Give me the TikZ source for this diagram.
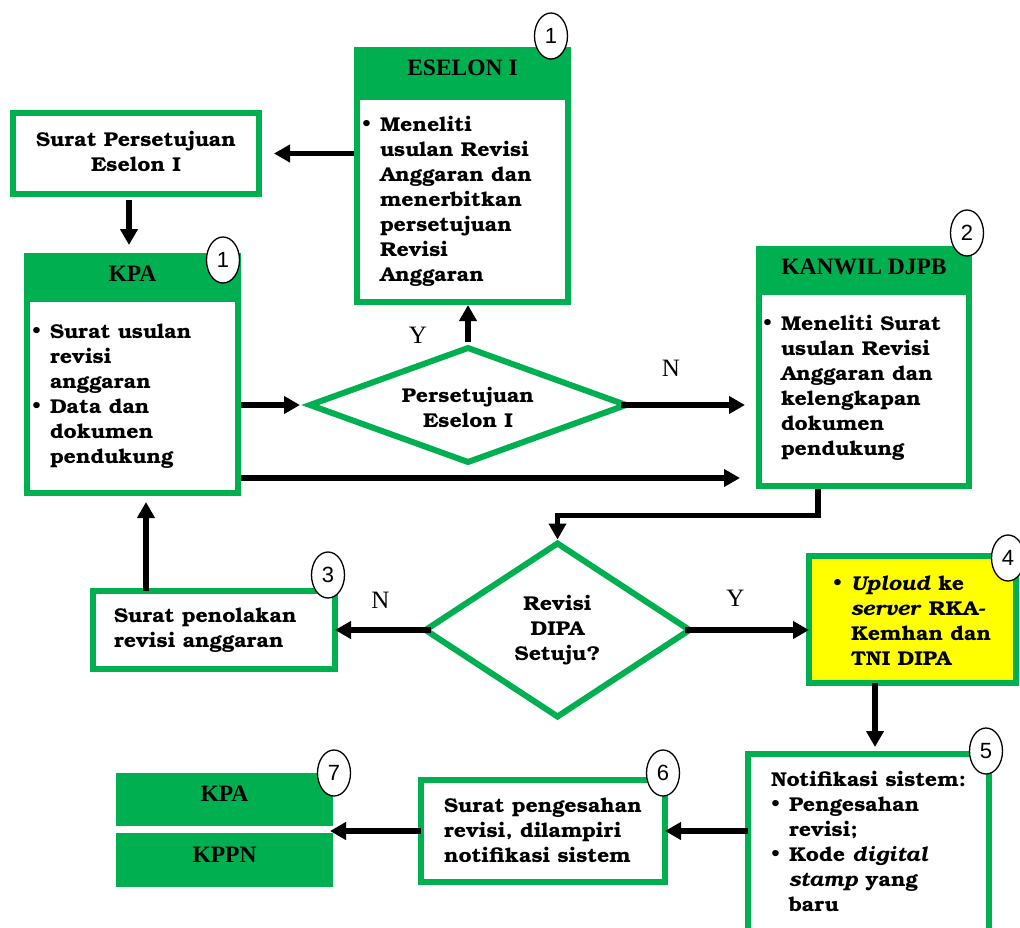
\documentclass[tikz,border=0pt]{standalone}
\usepackage{fontspec}
\setmainfont{TeX Gyre Bonum}[FakeStretch=1.07]
\newfontfamily\hdrfont{Liberation Serif}
\newfontfamily\numfont{Liberation Sans}
\usetikzlibrary{arrows.meta,shapes.geometric,calc}
\definecolor{grn}{HTML}{00B050}
\definecolor{ylw}{HTML}{FFFF00}
\newcommand\mybul{\makebox[18pt][l]{\raisebox{0.5pt}{\fontsize{18}{18}\selectfont\textbullet}}}
\newcommand\myind{\hspace*{18pt}}
\begin{document}
\begin{tikzpicture}[x=1pt,y=-1pt,
  every node/.style={inner sep=0pt, outer sep=0pt},
  body/.style={font=\bfseries\fontsize{20}{25}\selectfont},
  hdr/.style={font=\hdrfont\bfseries\fontsize{23.5}{25}\selectfont},
  yn/.style={font=\hdrfont\fontsize{25}{25}\selectfont},
  gbox/.style={draw=grn, line width=6pt, fill=white, rectangle},
  gfill/.style={fill=grn, rectangle},
  wfill/.style={fill=white, rectangle},
  diam/.style={diamond, draw=grn, line width=6pt, fill=white, body},
  circ/.style={ellipse, draw=black, line width=1.3pt, fill=white,
    minimum width=33pt, minimum height=46pt, font=\numfont\fontsize{22}{22}\selectfont},
  arr/.style={line width=5.5pt, -{Triangle[length=16pt,width=17pt]}},
  ]
\useasboundingbox (0,0) rectangle (1020,927);

% ESELON I
\node[gfill, minimum width=217pt, minimum height=258pt] (eselon) at (462.5,176) {};
\node[wfill, minimum width=205pt, minimum height=199pt] (eselonbody) at (462.5,199.5) {};
\node[hdr, anchor=base] (teselon) at (462.5,75) {ESELON I};
\node[body, anchor=base west] (teselonb) at (362,131) {\begin{tabular}[t]{@{}l@{}}
\mybul Meneliti\\ \myind usulan Revisi\\ \myind Anggaran dan\\ \myind menerbitkan\\
\myind persetujuan\\ \myind Revisi\\ \myind Anggaran\end{tabular}};

% Surat Persetujuan
\node[gbox, minimum width=246pt, minimum height=81pt] (sp) at (136,153.5) {};
\node[body, anchor=base] (tsp) at (136,146) {\begin{tabular}[t]{@{}c@{}}Surat Persetujuan\\Eselon I\end{tabular}};

% KPA
\node[gfill, minimum width=217pt, minimum height=243pt] (kpa) at (132.5,374.5) {};
\node[wfill, minimum width=205pt, minimum height=188pt] (kpabody) at (132.5,396) {};
\node[hdr, anchor=base] (tkpa) at (132.5,281) {KPA};
\node[body, anchor=base west] (tkpab) at (32,338) {\begin{tabular}[t]{@{}l@{}}
\mybul Surat usulan\\ \myind revisi\\ \myind anggaran\\ \mybul Data dan\\
\myind dokumen\\ \myind pendukung\end{tabular}};

% KANWIL DJPB
\node[gfill, minimum width=216pt, minimum height=243pt] (kanwil) at (864,367.5) {};
\node[wfill, minimum width=204pt, minimum height=188pt] (kanwilbody) at (864,389) {};
\node[hdr, anchor=base] (tkanwil) at (864,274) {KANWIL DJPB};
\node[body, anchor=base west] (tkanwilb) at (763,330) {\begin{tabular}[t]{@{}l@{}}
\mybul Meneliti Surat\\ \myind usulan Revisi\\ \myind Anggaran dan\\ \myind kelengkapan\\
\myind dokumen\\ \myind pendukung\end{tabular}};

% Diamond 1
\node[diam, aspect=2.77, minimum width=316pt, minimum height=114pt] (d1) at (468,405) {};
\node[body] (td1) at ([yshift=-5pt]d1.center)
  {\begin{tabular}{@{}c@{}}Persetujuan\\Eselon I\end{tabular}};

% Diamond 2
\node[diam, aspect=1.53, minimum width=264pt, minimum height=173pt] (d2) at (557.5,630) {};
\node[body] (td2) at (d2.center)
  {\begin{tabular}{@{}c@{}}Revisi\\DIPA\\Setuju?\end{tabular}};

% Surat penolakan
\node[gbox, minimum width=242pt, minimum height=78pt] (pen) at (214,630) {};
\node[body, anchor=base west] (tpen) at (114,622) {\begin{tabular}[t]{@{}l@{}}Surat penolakan\\revisi anggaran\end{tabular}};

% Upload
\node[gbox, fill=ylw, minimum width=207pt, minimum height=127pt] (upl) at (912.5,619.5) {};
\node[body, anchor=base west] (tupl) at (833,590) {\begin{tabular}[t]{@{}l@{}}
\mybul \textit{Uploud} ke\\ \myind \textit{server} RKA-\\ \myind Kemhan dan\\ \myind TNI DIPA\end{tabular}};

% Notifikasi
\node[gbox, minimum width=241pt, minimum height=206pt] (notif) at (868.5,857) {};
\node[body, anchor=base west] (tnotif) at (771,786) {\begin{tabular}[t]{@{}l@{}}
Notifikasi sistem:\\ \mybul Pengesahan\\ \myind revisi;\\ \mybul Kode \textit{digital}\\
\myind \textit{stamp} yang\\ \myind baru\end{tabular}};

% Surat pengesahan
\node[gbox, minimum width=244pt, minimum height=102pt] (peng) at (543,831) {};
\node[body, anchor=base west] (tpeng) at (444,812) {\begin{tabular}[t]{@{}l@{}}
Surat pengesahan\\revisi, dilampiri\\notifikasi sistem\end{tabular}};

% KPA / KPPN
\node[gfill, minimum width=217pt, minimum height=53pt] (kpa2) at (224.5,799.5) {};
\node[hdr, anchor=base] (tkpa2) at (224.5,801) {KPA};
\node[gfill, minimum width=217pt, minimum height=54pt] (kppn) at (224.5,860) {};
\node[hdr, anchor=base] (tkppn) at (224.5,862) {KPPN};

% Connectors
\draw[arr, shorten >=15pt] (eselon.west |- sp.east) -- (sp.east);
\draw[arr, shorten <=6pt, shorten >=8pt] ([xshift=-7pt]sp.south) -- ([xshift=-7pt]sp.south |- kpa.north);
\draw[arr, shorten >=10pt] (kpa.east |- d1.west) -- (d1.west);
\draw[arr, shorten >=16pt] ([yshift=-103.5pt]kpa.east) -- ([yshift=-103.5pt]kpa.east -| kanwil.west);
\draw[arr, shorten <=6pt] (d1.north) -- (d1.north |- eselon.south);
\draw[arr, shorten <=-5pt, shorten >=11pt] (d1.east) -- (d1.east -| kanwil.west);
\draw[arr, shorten >=4pt] ([xshift=-46pt]kanwil.south) |- ([yshift=28pt]d2.north) -- (d2.north);
\draw[arr, shorten <=-5pt] (d2.west) -- (d2.west -| pen.east);
\draw[arr, shorten >=6pt] ([xshift=-68pt]pen.north) -- ([xshift=-68pt]pen.north |- kpa.south);
\draw[arr, shorten <=-5pt] (d2.east) -- (d2.east -| upl.west);
\draw[arr, shorten >=7pt] ([xshift=-37.5pt]upl.south) -- ([xshift=-37.5pt]upl.south |- notif.north);
\draw[arr] (notif.west |- peng.east) -- (peng.east);
\draw[arr, shorten >=-3pt] (peng.west) -- (peng.west -| kpa2.east);

% Labels
\node[yn] (ly1) at (418,335) {Y};
\node[yn] (ln1) at (671,368) {N};
\node[yn] (ln2) at (380.5,600) {N};
\node[yn] (ly2) at (735.5,598) {Y};

% Circles
\node[circ] (c1) at (551,36) {1};
\node[circ] (c1b) at (223,260) {1};
\node[circ] (c2) at (967,233) {2};
\node[circ] (c3) at (328,575) {3};
\node[circ] (c4) at (1008,558) {4};
\node[circ] (c5) at (986,751) {5};
\node[circ] (c6) at (663,773) {6};
\node[circ] (c7) at (334,773) {7};
\end{tikzpicture}
\end{document}
